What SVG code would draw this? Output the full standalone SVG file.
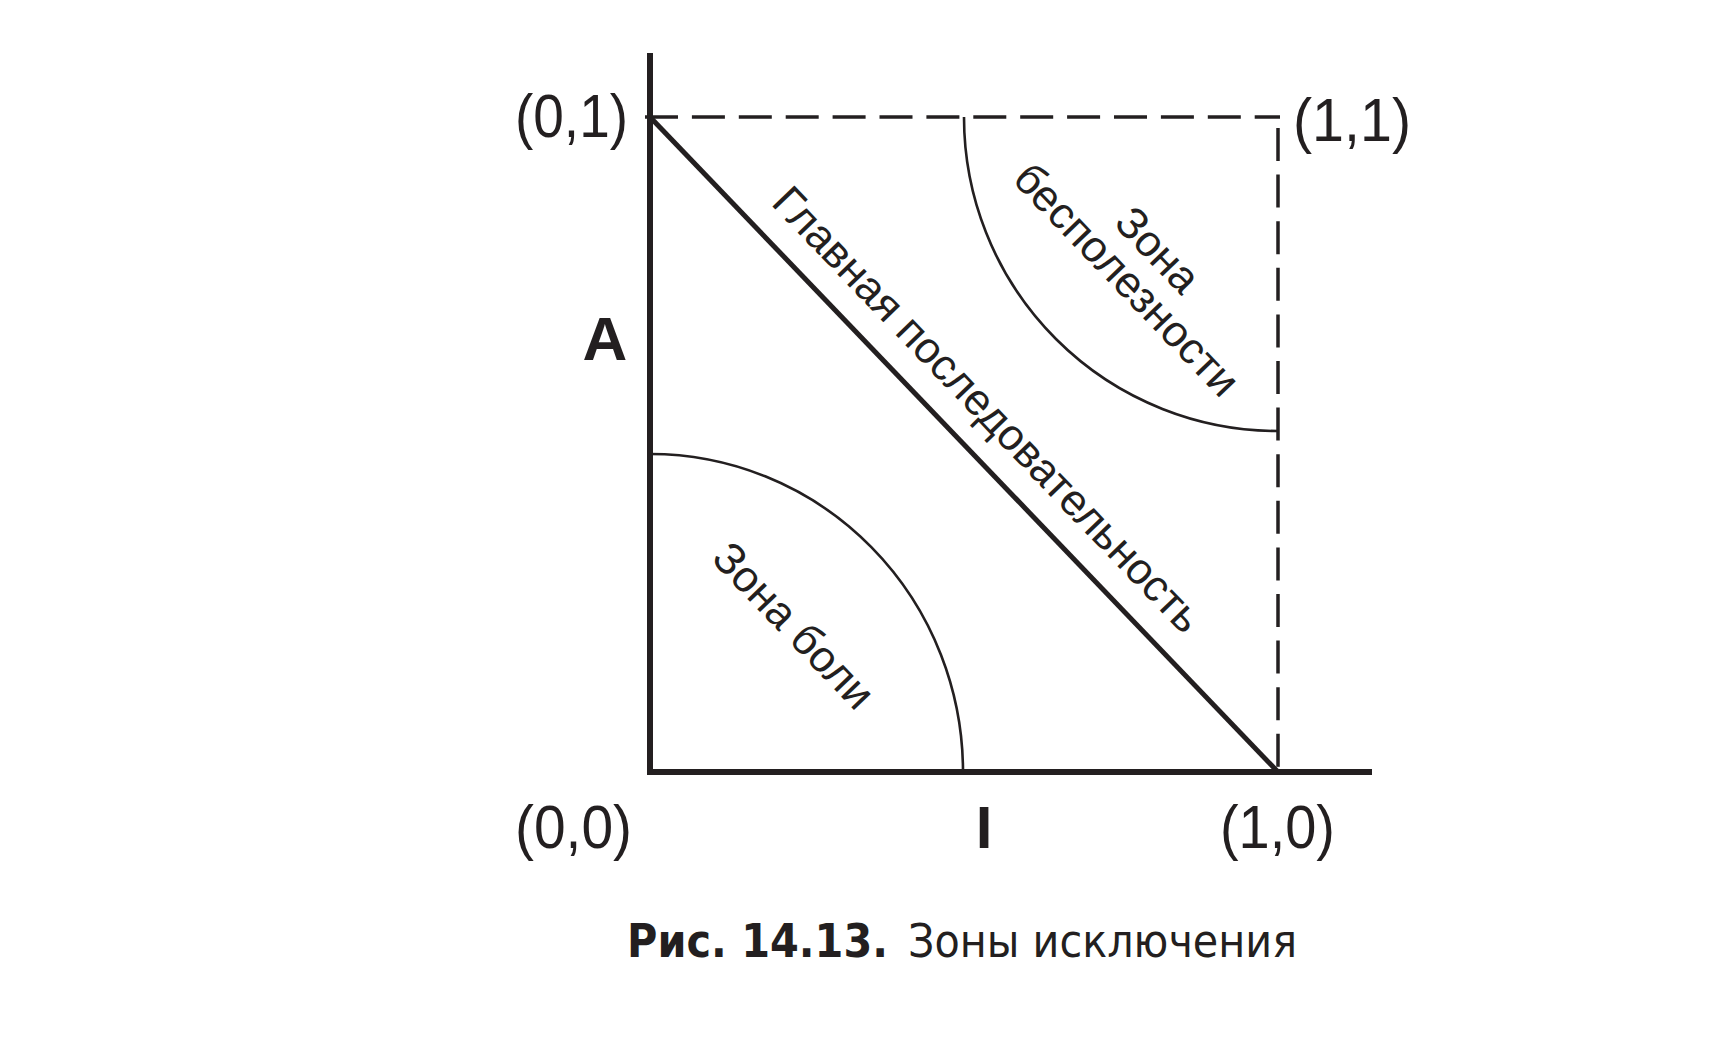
<svg xmlns="http://www.w3.org/2000/svg" width="1736" height="1040" viewBox="0 0 1736 1040">
  <style>
    .lbl { font-family: "Liberation Sans", Arial, sans-serif; fill: #231f20; }
    .ax { font-size: 62px; }
    .bold { font-weight: bold; }
    .rot { font-size: 44px; }
    .cap { font-family: "DejaVu Sans", Verdana, sans-serif; font-size: 47px; fill: #231f20; }
    .axis { fill: none; stroke: #231f20; stroke-width: 6; stroke-linejoin: miter; }
    .diag { fill: none; stroke: #231f20; stroke-width: 5; }
    .dash { fill: none; stroke: #231f20; stroke-width: 3.5; }
    .arc { fill: none; stroke: #231f20; stroke-width: 2.6; }
  </style>
  <rect x="0" y="0" width="1736" height="1040" fill="#ffffff"/>

  <g id="connectors">
    <path id="top-dashed" class="dash" d="M645,117 H1280" stroke-dasharray="33 13.9"/>
    <path id="right-dashed" class="dash" d="M1278,128 V772" stroke-dasharray="33 13.6"/>
    <path id="pain-arc" class="arc" d="M650,454 A313,318 0 0 1 963,772"/>
    <path id="useless-arc" class="arc" d="M964,117 A314,314 0 0 0 1278,431"/>
    <path id="main-sequence" class="diag" d="M650,117 L1278,772"/>
    <path id="axes" class="axis" d="M650,53 V772 H1372"/>
  </g>

  <g id="label-01"><text class="lbl ax" x="515" y="137" textLength="113" lengthAdjust="spacingAndGlyphs">(0,1)</text></g>
  <g id="label-11"><text class="lbl ax" x="1293" y="141" textLength="118" lengthAdjust="spacingAndGlyphs">(1,1)</text></g>
  <g id="label-00"><text class="lbl ax" x="515" y="848" textLength="117" lengthAdjust="spacingAndGlyphs">(0,0)</text></g>
  <g id="label-10"><text class="lbl ax" x="1220" y="848" textLength="115" lengthAdjust="spacingAndGlyphs">(1,0)</text></g>
  <g id="axis-A"><text class="lbl bold" x="605" y="360" font-size="62" text-anchor="middle">A</text></g>
  <g id="axis-I"><text class="lbl bold" x="984" y="848" font-size="60" text-anchor="middle">I</text></g>

  <g id="main-sequence-label" transform="translate(770,204) rotate(46.2)">
    <text class="lbl rot" x="0" y="0" textLength="598" lengthAdjust="spacingAndGlyphs">Главная последовательность</text>
  </g>

  <g id="pain-zone" transform="translate(783,636) rotate(46.2)">
    <text class="lbl rot" x="0" y="0" text-anchor="middle">Зона боли</text>
  </g>

  <g id="useless-zone" transform="translate(1116,290) rotate(46.2)">
    <text class="lbl rot" x="0" y="-43" text-anchor="middle">Зона</text>
    <text class="lbl rot" x="0" y="0" text-anchor="middle">бесполезности</text>
  </g>

  <g id="caption">
    <text class="cap" x="627" y="957" font-weight="bold" textLength="261" lengthAdjust="spacingAndGlyphs">Рис. 14.13.</text>
    <text class="cap" x="908" y="957" textLength="389" lengthAdjust="spacingAndGlyphs">Зоны исключения</text>
  </g>
</svg>
